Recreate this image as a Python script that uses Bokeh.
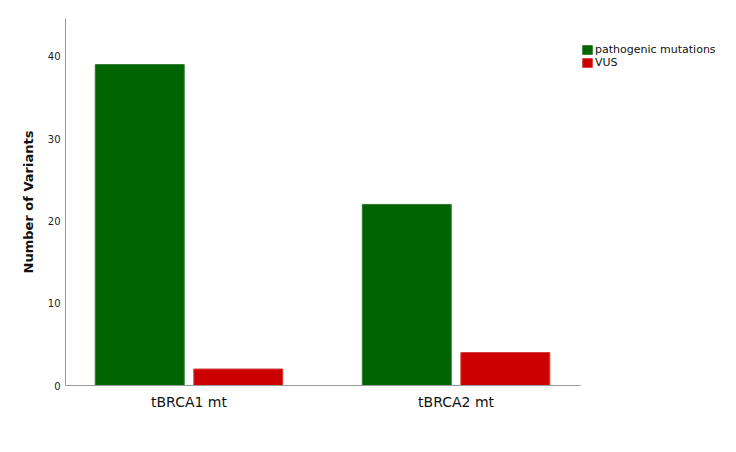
from bokeh.plotting import figure
from bokeh.models import Range1d, FixedTicker, Legend, LegendItem, ColumnDataSource
from bokeh.transform import dodge
from bokeh.embed import file_html
from bokeh.resources import INLINE

categories = ["tBRCA1 mt", "tBRCA2 mt"]
pathogenic = [39, 22]
vus = [2, 4]
y_ticks = [0, 10, 20, 30, 40]

src = ColumnDataSource(dict(x=list(range(len(categories))), pm=pathogenic, vus=vus))

p = figure(frame_width=515, frame_height=367, output_backend="svg", toolbar_location=None,
           x_range=Range1d(-0.4625, 1.466), y_range=Range1d(0, 44.6),
           min_border_left=65, min_border_right=140, min_border_top=18, min_border_bottom=50)

g = p.vbar(x=dodge("x", -0.1845, range=p.x_range), top="pm", width=0.333, source=src,
           fill_color="#006400", line_color="#2f7a2f", line_width=1)
r = p.vbar(x=dodge("x", 0.1845, range=p.x_range), top="vus", width=0.333, source=src,
           fill_color="#cc0000", line_color="#d63a3a", line_width=1)

p.xgrid.visible = False
p.ygrid.visible = False
p.outline_line_color = None

for ax in (p.xaxis, p.yaxis):
    ax.major_tick_line_color = None
    ax.minor_tick_line_color = None
    ax.major_tick_out = 0
    ax.major_tick_in = 0
    ax.minor_tick_out = 0
    ax.minor_tick_in = 0
    ax.axis_line_color = "#999999"

p.xaxis.ticker = FixedTicker(ticks=list(range(len(categories))))
p.xaxis.major_label_overrides = {i: c for i, c in enumerate(categories)}
p.xaxis.major_label_text_font = "DejaVu Sans"
p.xaxis.major_label_text_font_size = "14px"
p.xaxis.major_label_text_color = "#111111"
p.xaxis.major_label_standoff = 8

p.yaxis.ticker = FixedTicker(ticks=y_ticks)
p.yaxis.major_label_text_font = "DejaVu Sans"
p.yaxis.major_label_text_font_size = "10px"
p.yaxis.major_label_text_color = "#222222"
p.yaxis.major_label_standoff = 5
p.yaxis.axis_label = "Number of Variants"
p.yaxis.axis_label_text_font = "DejaVu Sans"
p.yaxis.axis_label_text_font_style = "bold"
p.yaxis.axis_label_text_font_size = "13px"
p.yaxis.axis_label_text_color = "#111111"
p.yaxis.axis_label_standoff = 9

legend = Legend(items=[LegendItem(label="pathogenic mutations", renderers=[g]),
                       LegendItem(label="VUS", renderers=[r])],
                location=(1, 316), border_line_color=None, background_fill_alpha=0,
                label_text_font="DejaVu Sans", label_text_font_size="11px",
                glyph_width=12, glyph_height=11, label_height=11, spacing=-2,
                label_standoff=2, padding=0, margin=0)
legend.label_text_color = "#111111"
p.add_layout(legend, "right")

open("out.html", "w").write(file_html(p, INLINE))
